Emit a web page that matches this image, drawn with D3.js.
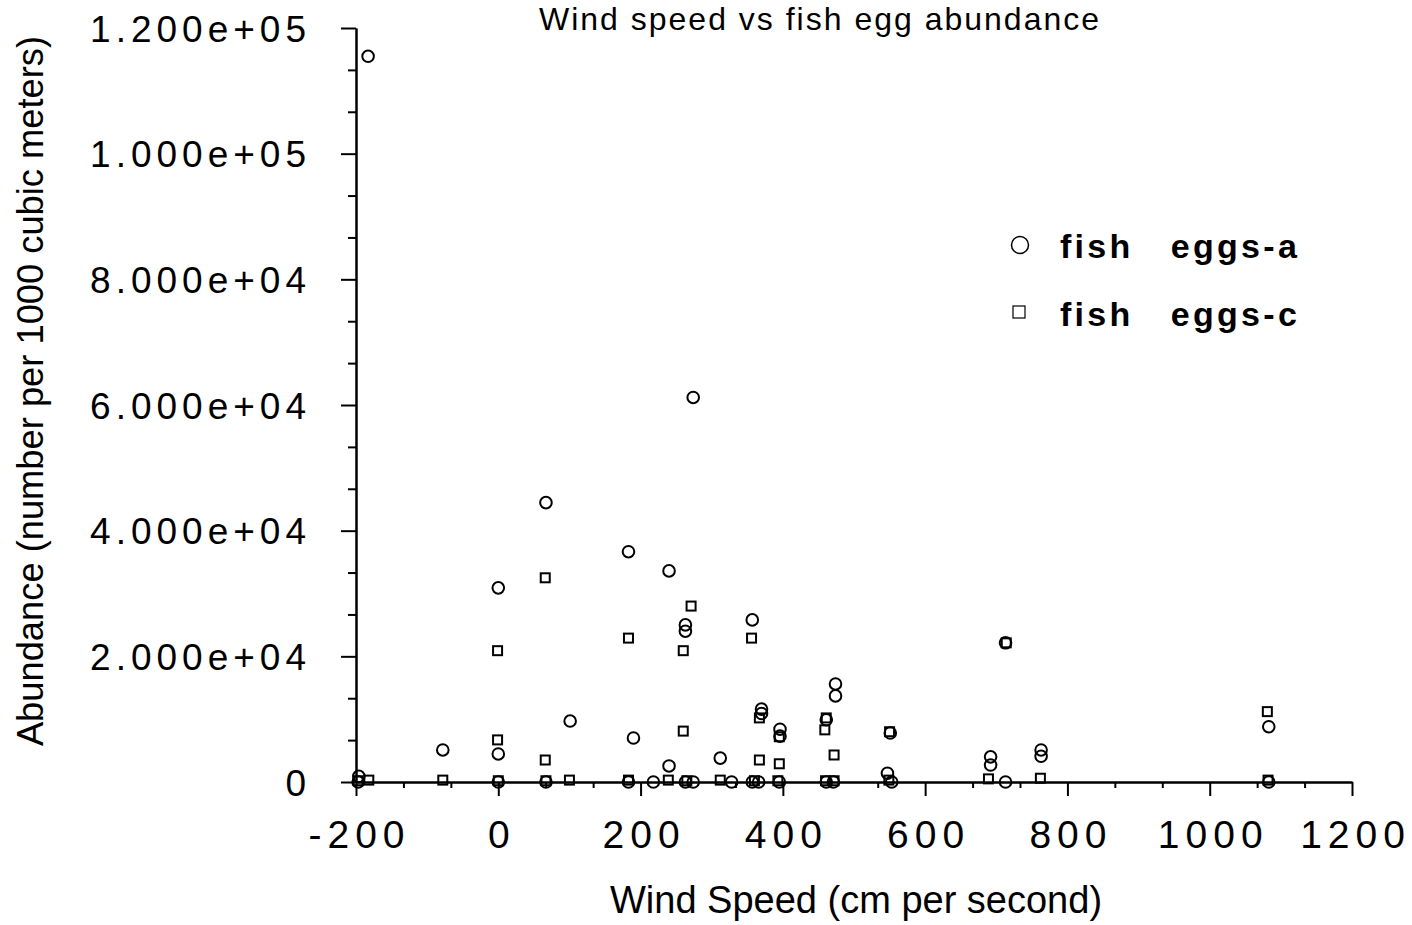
<!DOCTYPE html>
<html>
<head>
<meta charset="utf-8">
<script src="https://cdn.jsdelivr.net/npm/d3@7"></script>
<style>
  html, body { margin: 0; padding: 0; background: #fff; }
  svg { display: block; }
  text { font-family: "Liberation Sans", Arial, Helvetica, sans-serif; fill: #000; }
</style>
</head>
<body>
<svg id="chart" width="1412" height="925"></svg>
<script>
// ---- data ----
const windA = [-197, -196, -183, -78, 0, 0, 0, 67, 67, 101, 183, 183, 190, 218, 240, 240, 263, 263, 263, 274, 274,
  312, 328, 357, 357, 366, 370, 370, 396, 396, 395, 461, 461, 471, 474, 474, 547, 551, 553, 692, 692, 713, 713, 763, 763, 1083, 1083];
const eggsA = [0, 900, 115500, 5100, 30900, 4460, 0, 44460, 0, 9700, 36650, 0, 7000, 0, 33600, 2550, 25000, 24000, 0, 61200, 0,
  3800, 0, 25800, 0, 0, 11600, 10900, 8400, 7300, 0, 9900, 0, 0, 15600, 13700, 1400, 7800, 0, 4000, 2700, 22150, 0, 5100, 4100, 8800, 0];

const windC = [-197, -182, -78, -1, -1, 0, 66, 66, 67, 100, 183, 183, 239, 260, 260, 271, 265, 312, 356, 360, 367, 367,
  395, 395, 393, 459, 461, 460, 472, 472, 550, 549, 689, 714, 762, 1081, 1082];
const eggsC = [200, 300, 300, 20900, 6700, 200, 32500, 3500, 200, 300, 22900, 300, 300, 20900, 8100, 28000, 200, 300, 22900, 200, 10200, 3500,
  7200, 2900, 200, 8300, 10200, 200, 4300, 200, 8000, 300, 500, 22150, 600, 11200, 300];

const seriesNames = ["fish eggs-a", "fish eggs-c"];
const xTicks = [-200, 0, 200, 400, 600, 800, 1000, 1200];
const xTickLabels = ["-200", "0", "200", "400", "600", "800", "1000", "1200"];
const yTicks = [0, 20000, 40000, 60000, 80000, 100000, 120000];
const yTickLabels = ["0", "2.000e+04", "4.000e+04", "6.000e+04", "8.000e+04", "1.000e+05", "1.200e+05"];
const titleText = "Wind speed vs fish egg abundance";
const xTitle = "Wind Speed (cm per second)";
const yTitle = "Abundance (number per 1000 cubic meters)";

// ---- drawing ----
const svg = d3.select("#chart");
const x = d3.scaleLinear().domain([-200, 1200]).range([356, 1352]);
const y = d3.scaleLinear().domain([0, 120000]).range([782, 28]);

// title (kept fully visible near the top edge)
svg.append("text").attr("x", 820).attr("y", 30).attr("text-anchor", "middle")
  .style("font-size", "32px").style("letter-spacing", "2px").text(titleText);

// minor ticks
const xMinor = d3.range(-200, 1200.01, 200 / 3).filter(v => !xTicks.some(t => Math.abs(t - v) < 1));
const yMinor = d3.range(0, 120000.1, 20000 / 3).filter(v => !yTicks.some(t => Math.abs(t - v) < 1));

const gxMinor = svg.append("g").attr("transform", "translate(0,782)")
  .call(d3.axisBottom(x).tickValues(xMinor).tickSize(6).tickSizeOuter(0).tickFormat(""));
const gyMinor = svg.append("g").attr("transform", "translate(356,0)")
  .call(d3.axisLeft(y).tickValues(yMinor).tickSize(8).tickSizeOuter(0).tickFormat(""));

const gx = svg.append("g").attr("transform", "translate(0,782)")
  .call(d3.axisBottom(x).tickValues(xTicks).tickSize(14).tickSizeOuter(0).tickPadding(24)
    .tickFormat((d, i) => xTickLabels[i]));
const gy = svg.append("g").attr("transform", "translate(356,0)")
  .call(d3.axisLeft(y).tickValues(yTicks).tickSize(15).tickSizeOuter(0).tickPadding(30)
    .tickFormat((d, i) => yTickLabels[i]));

[gx, gy, gxMinor, gyMinor].forEach(g => {
  g.selectAll("path.domain").attr("stroke", "#000").attr("stroke-width", 2);
  g.selectAll(".tick line").attr("stroke", "#000").attr("stroke-width", 2);
});
gx.selectAll(".tick text").style("font-size", "39px").style("letter-spacing", "6px")
  .attr("font-family", null).attr("dx", "3px");
gy.selectAll(".tick text").style("font-size", "37px").style("letter-spacing", "5px")
  .attr("font-family", null).attr("dy", "0.36em");

// axis titles
svg.append("text").attr("x", 856).attr("y", 913).attr("text-anchor", "middle")
  .style("font-size", "38px").text(xTitle);
svg.append("text").attr("transform", "translate(43,391) rotate(-90)").attr("text-anchor", "middle")
  .style("font-size", "36.3px").text(yTitle);

// data points
const ptsA = windA.map((w, i) => ({ w, v: eggsA[i] }));
const ptsC = windC.map((w, i) => ({ w, v: eggsC[i] }));

svg.append("g").selectAll("rect").data(ptsC).join("rect")
  .attr("x", d => x(d.w) - 4.5).attr("y", d => y(d.v) - 4.5)
  .attr("width", 9).attr("height", 9)
  .attr("fill", "none").attr("stroke", "#000").attr("stroke-width", 2);

svg.append("g").selectAll("circle").data(ptsA).join("circle")
  .attr("cx", d => x(d.w)).attr("cy", d => y(d.v)).attr("r", 5.8)
  .attr("fill", "none").attr("stroke", "#000").attr("stroke-width", 2);

// legend
const legend = svg.append("g");
legend.append("circle").attr("cx", 1020).attr("cy", 245).attr("r", 8.5)
  .attr("fill", "none").attr("stroke", "#000").attr("stroke-width", 1.5);
legend.append("rect").attr("x", 1013).attr("y", 306).attr("width", 12).attr("height", 12)
  .attr("fill", "none").attr("stroke", "#000").attr("stroke-width", 1.2);
[[seriesNames[0], 258], [seriesNames[1], 326]].forEach(([name, by]) => {
  const parts = name.split(" ");
  const t = legend.append("text").attr("y", by).style("font-size", "34px").style("font-weight", "bold")
    .style("letter-spacing", "3.3px");
  t.append("tspan").attr("x", 1060).text(parts[0]);
  t.append("tspan").attr("x", 1170).text(" " + parts[1]).attr("dx", "-12px");
});
</script>
</body>
</html>
